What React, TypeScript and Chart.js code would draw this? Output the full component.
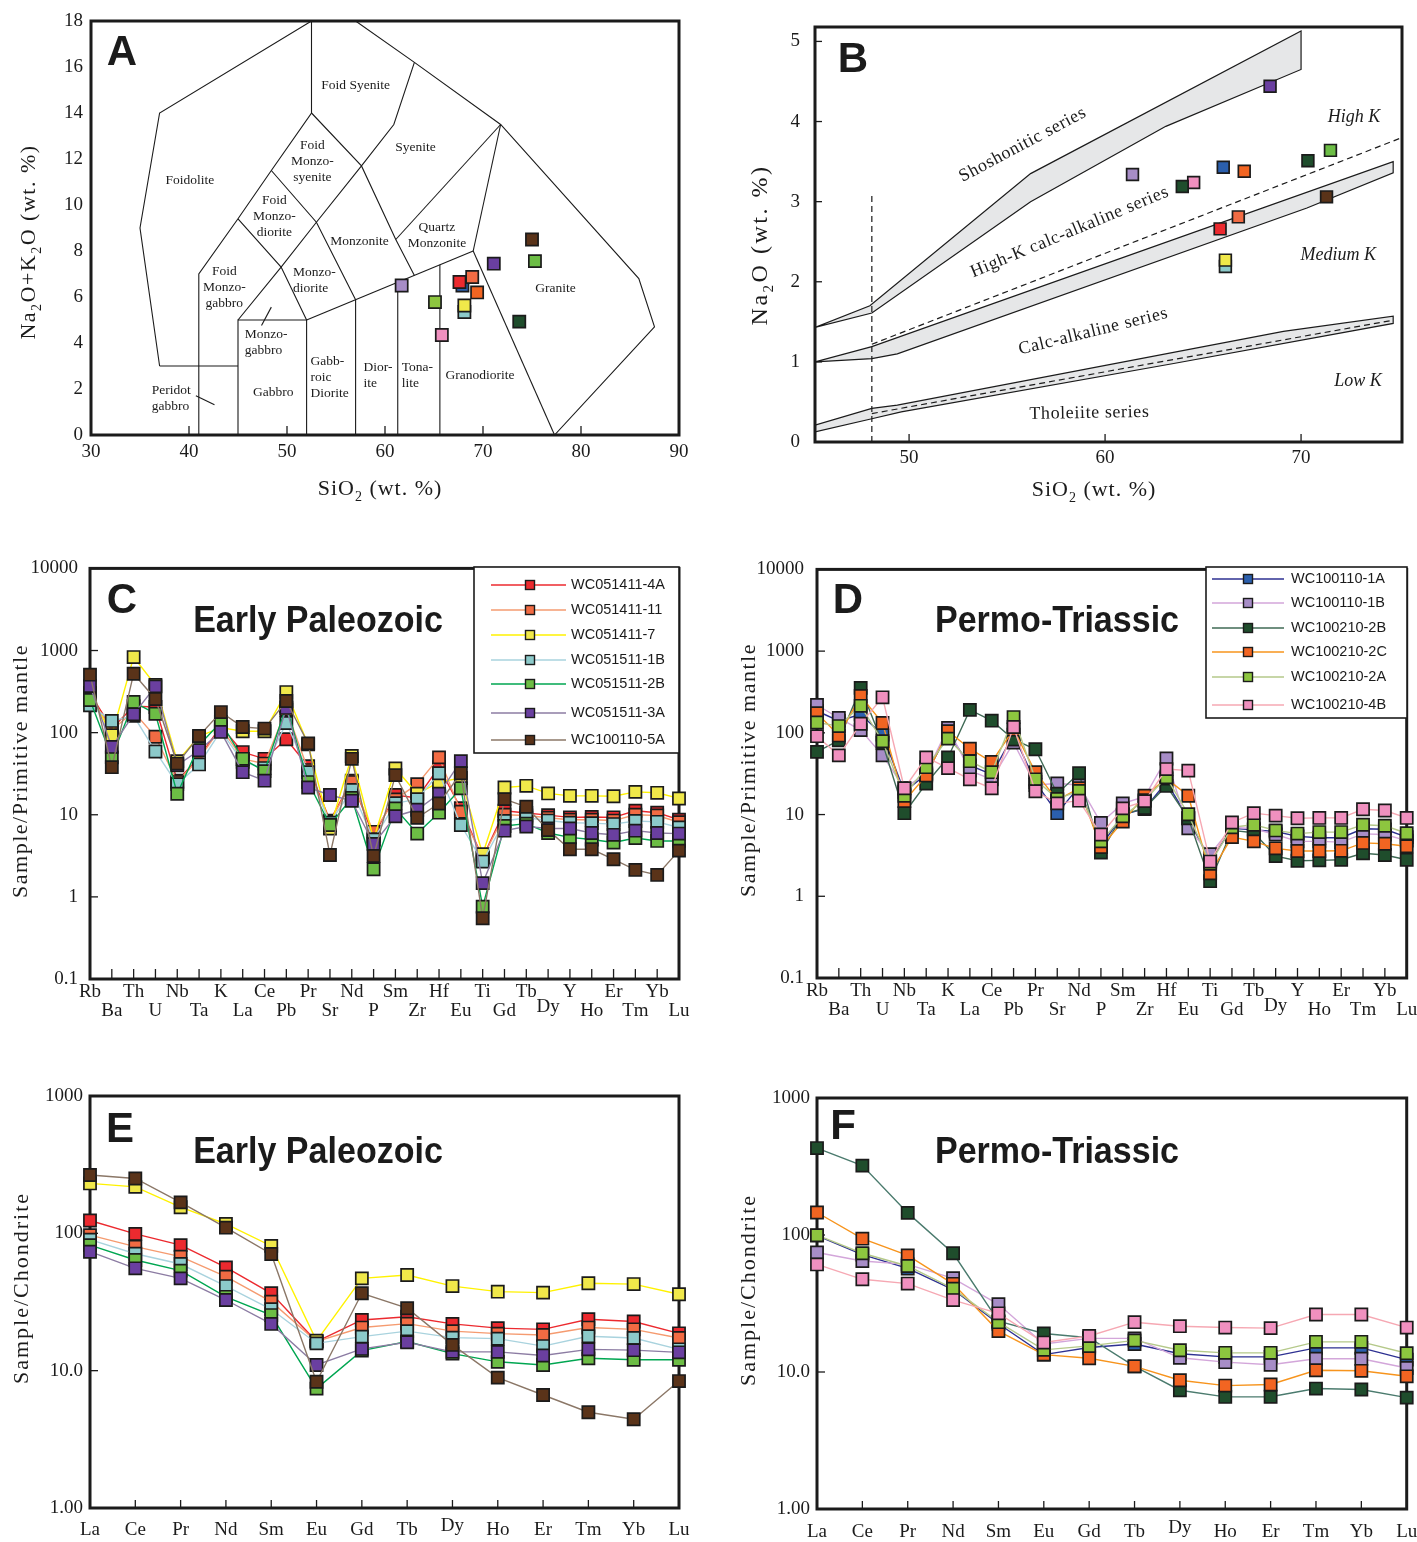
import React, { useEffect, useRef } from 'react';
import { Chart, registerables } from 'chart.js';

Chart.register(...registerables);

const SERIF = '"Liberation Serif", "Times New Roman", Times, serif';
const SANS = '"Liberation Sans", Arial, Helvetica, sans-serif';
const INK = '#1b1b1b';

// ---------------- Panel A & B sample data (13 samples) ----------------
const sampleNames = ['WC100110-1A', 'WC051411-4A', 'WC051411-11', 'WC051511-1B', 'WC051411-7', 'WC051511-2B', 'WC051511-3A', 'WC100110-5A', 'WC100110-1B', 'WC100210-2B', 'WC100210-2C', 'WC100210-4B', 'WC100210-2A'];
const tasSiO2 = [67.9, 67.6, 68.9, 68.1, 68.1, 75.3, 71.1, 75.0, 61.7, 73.7, 69.4, 65.8, 65.1];
const tasAlkali = [6.5, 6.65, 6.87, 5.35, 5.63, 7.56, 7.45, 8.5, 6.5, 4.93, 6.2, 4.35, 5.78];
const kSiO2 = [66.03, 65.87, 66.8, 66.14, 66.14, 71.5, 68.42, 71.3, 61.4, 70.35, 67.1, 64.52, 63.94];
const kOxide = [3.43, 2.66, 2.81, 2.19, 2.27, 3.64, 4.44, 3.06, 3.34, 3.51, 3.38, 3.24, 3.19];
const tasColors = ['#2b5fad', '#ec2a2f', '#f26b43', '#8ccaca', '#f0e84a', '#6cbd45', '#6a3fa0', '#5a3319', '#a78dc7', '#1f4d2c', '#f26522', '#f090bf', '#8dc63f'];
const kColors = ['#2b5fad', '#ec2a2f', '#f26b43', '#8ccaca', '#f0e84a', '#6cbd45', '#6a3fa0', '#5a3319', '#a78dc7', '#1f4d2c', '#f26522', '#f090bf', '#1f4d2c'];

// TAS (plutonic) field boundaries, [SiO2, Na2O+K2O]
const tasBoundaries = [
  [[37, 3], [35, 9], [37, 14], [52.5, 18]],
  [[37, 3], [45, 3]],
  [[52.5, 18], [52.5, 14], [48.4, 11.5], [45, 9.4], [41, 7], [41, 0]],
  [[45, 9.4], [49.4, 7.3], [52, 5]],
  [[45, 0], [45, 5], [52, 5], [52, 0]],
  [[45, 5], [49.4, 7.3], [53, 9.25], [57.6, 11.7], [60.9, 13.5], [63, 16.2]],
  [[57, 18], [63, 16.2], [71.8, 13.5], [85.9, 6.8], [87.5, 4.7], [77.3, 0]],
  [[48.4, 11.5], [53, 9.25], [57, 5.88]],
  [[52.5, 14], [57.6, 11.7], [61.1, 8.5], [63, 6.94]],
  [[52, 5], [69, 8]],
  [[61.1, 8.5], [71.8, 13.5]],
  [[69, 8], [71.8, 13.5]],
  [[69, 8], [77.3, 0]],
  [[57, 5.88], [57, 0]],
  [[61.3, 6.64], [61.3, 0]],
  [[65.6, 7.4], [65.6, 0]],
  [[40.7, 1.71], [42.6, 1.32]],
  [[48.4, 5.56], [47.4, 4.76]],
];
const tasFieldNames = ['Foid Syenite', 'Syenite', 'Foidolite', 'Foid\nMonzo-\nsyenite', 'Foid\nMonzo-\ndiorite', 'Monzonite', 'Quartz\nMonzonite', 'Foid\nMonzo-\ngabbro', 'Monzo-\ndiorite', 'Monzo-\ngabbro', 'Gabbro', 'Peridot\ngabbro', 'Gabb-\nroic\nDiorite', 'Dior-\nite', 'Tona-\nlite', 'Granodiorite', 'Granite'];
const tasFieldSiO2 = [57.0, 63.1, 40.1, 52.6, 48.7, 57.4, 65.3, 43.6, 50.6, 45.7, 48.6, 36.2, 52.4, 57.8, 61.7, 69.7, 77.4];
const tasFieldAlk = [15.18, 12.5, 11.07, 11.9, 9.5, 8.43, 8.68, 6.4, 6.72, 4.03, 1.86, 1.57, 2.51, 2.58, 2.58, 2.61, 6.36];
const tasFieldLeft = [false, false, false, false, false, false, false, false, true, true, false, true, true, true, true, false, false];

// K2O-SiO2 series fields
const shoshoniticBand = [[45.2, 1.43], [48, 1.7], [56.2, 3.35], [70, 5.13], [70, 4.65], [63.1, 3.94], [56.2, 3.0], [48.1, 1.61], [45.2, 1.43]];
const highKBand = [[45.2, 1.0], [48.1, 1.19], [74.7, 3.5], [74.7, 3.36], [70.3, 2.92], [49.4, 1.1], [48.1, 1.04], [45.2, 1.0]];
const lowKBand = [[45.2, 0.21], [48.1, 0.42], [49.4, 0.46], [69.1, 1.38], [74.7, 1.57], [74.7, 1.48], [63.5, 0.98], [49.6, 0.375], [48.1, 0.29], [45.2, 0.125]];
const highKDash = [[48.1, 1.22], [75.15, 3.8]];
const lowKDash = [[48.1, 0.355], [74.7, 1.52]];
const basaltDash = [[48.1, 0], [48.1, 3.07]];
const seriesNames = ['Shoshonitic series', 'High-K calc-alkaline series', 'Calc-alkaline series', 'Tholeiite series'];
const seriesLabelSiO2 = [55.8, 58.2, 59.4, 59.2];
const seriesLabelK = [3.71, 2.62, 1.38, 0.36];
const seriesLabelAngle = [-28, -22.6, -14, -1];
const kClassNames = ['High K', 'Medium K', 'Low K'];
const kClassSiO2 = [72.7, 71.9, 72.9];
const kClassK = [4.05, 2.33, 0.76];

// ---------------- Panels C & D: primitive-mantle normalized ----------------
const spiderElements = ['Rb', 'Ba', 'Th', 'U', 'Nb', 'Ta', 'K', 'La', 'Ce', 'Pb', 'Pr', 'Sr', 'Nd', 'P', 'Sm', 'Zr', 'Hf', 'Eu', 'Ti', 'Gd', 'Tb', 'Dy', 'Y', 'Ho', 'Er', 'Tm', 'Yb', 'Lu'];
const pmTickValues = [0.1, 1, 10, 100, 1000, 10000];
const pmTickLabels = ['0.1', '1', '10', '100', '1000', '10000'];

const earlyNames = ['WC051411-4A', 'WC051411-11', 'WC051411-7', 'WC051511-1B', 'WC051511-2B', 'WC051511-3A', 'WC100110-5A'];
const pm4A = [303, 112, 210, 205, 26, 50, 120, 58, 48, 83, 39, 8.5, 26, 5.5, 17.4, 16, 38, 12, 3.0, 11.2, 10.5, 9.9, 9.3, 9.4, 9.3, 11.2, 10.6, 8.7];
const pm11 = [277, 108, 180, 89, 25, 48, 115, 48, 42, 190, 35, 8.2, 25, 6.2, 15.4, 23.6, 50, 10.9, 3.0, 10, 9.8, 9.2, 8.7, 8.7, 8.5, 10, 9.8, 8.1];
const pm7 = [300, 93, 832, 380, 45, 90, 115, 104, 104, 312, 72, 6.8, 52, 5.0, 36.6, 18, 25, 28, 3.3, 21.5, 22.5, 18.2, 17, 17, 16.8, 19, 18.5, 15.8];
const pm1B = [215, 139, 160, 59, 23.6, 41, 105, 44, 37, 131, 33, 8, 20, 5, 13.8, 15.5, 32, 7.5, 2.69, 8.4, 9.2, 8.5, 8.0, 7.9, 7.7, 8.4, 8.2, 7.0];
const pm2B = [250, 50, 236, 170, 18, 70, 135, 48, 34, 210, 25, 7.5, 16, 2.17, 11.9, 5.9, 10.6, 21, 0.76, 7.3, 7.8, 6.0, 5.3, 5.0, 4.6, 5.2, 4.8, 4.8];
const pm3A = [369, 67, 167, 366, 40, 61, 102, 33, 26, 200, 21.5, 17.4, 14.8, 4.4, 9.6, 11.5, 18, 45, 1.47, 6.4, 7.2, 6.8, 6.8, 6.0, 5.7, 6.4, 6.0, 5.9];
const pm5A = [508, 38, 522, 257, 42, 91, 178, 117, 112, 243, 74, 3.24, 48, 3.15, 30.4, 9.2, 13.7, 32, 0.55, 15.5, 12.5, 6.5, 3.8, 3.8, 2.87, 2.13, 1.85, 3.66];

const permoNames = ['WC100110-1A', 'WC100110-1B', 'WC100210-2B', 'WC100210-2C', 'WC100210-2A', 'WC100210-4B'];
const pd1A = [185, 140, 169, 95, 19, 31, 100, 40, 31, 95, 25, 10.4, 22, 4.1, 10, 11.7, 25, 9, 2.7, 6.8, 6.5, 6.2, 5.4, 5.2, 5.2, 6.7, 6.6, 5.3];
const pd1B = [219, 152, 108, 53, 21, 32, 115, 34.5, 27, 76, 23, 24, 23, 7.9, 13.7, 16.5, 48.6, 6.8, 3.27, 7.0, 6.7, 5.7, 4.7, 4.7, 4.6, 5.8, 5.7, 4.8];
const pd2B = [58.5, 81, 355, 75, 10.4, 24, 50, 191, 141, 83, 63, 18, 32, 3.42, 10, 12, 22.4, 9, 1.53, 6.4, 6.0, 3.1, 2.72, 2.75, 2.8, 3.36, 3.2, 2.8];
const pd2C = [174, 93, 282, 132, 14.6, 30, 105, 64, 44, 110, 33, 15, 21, 4.0, 8.2, 17, 27.5, 17, 1.91, 5.3, 4.7, 3.86, 3.58, 3.58, 3.6, 4.5, 4.4, 4.1];
const pd2A = [134, 121, 214, 79, 17, 38, 85, 45, 33, 156, 27, 15.5, 19.5, 4.7, 9.5, 15, 28.5, 10.1, 2.5, 7.0, 7.5, 6.4, 5.85, 6.1, 6.1, 7.5, 7.3, 5.9];
const pd4B = [91, 53, 129, 272, 21, 50, 37, 27, 21, 118, 19.3, 13.7, 14.8, 5.7, 11.9, 14.6, 36, 34.5, 2.66, 8.0, 10.4, 9.7, 9.0, 9.1, 9.1, 11.6, 11.2, 9.1];

// ---------------- Panels E & F: chondrite normalized REE ----------------
const reeElements = ['La', 'Ce', 'Pr', 'Nd', 'Sm', 'Eu', 'Gd', 'Tb', 'Dy', 'Ho', 'Er', 'Tm', 'Yb', 'Lu'];
const chTickValues = [1, 10, 100, 1000];
const chTickLabels = ['1.00', '10.0', '100', '1000'];
const ree4A = [124, 99, 82, 56.5, 36.6, 16.3, 23.4, 24.7, 21.9, 20.4, 20, 23.7, 22.8, 18.7];
const ree11 = [97, 80, 67.6, 48.4, 31.8, 16.3, 20.6, 22, 19.4, 18.6, 18.2, 20.6, 20, 17.3];
const ree7 = [231, 218, 155, 117, 81, 16.5, 47, 49.7, 41.3, 37.6, 37, 43.3, 42.7, 36];
const ree1B = [90, 71, 59.8, 41.3, 28, 15.8, 17.7, 19.4, 17.4, 17.1, 15.1, 17.8, 17.3, 14.3];
const ree2B = [82, 64, 53.5, 34.5, 25.4, 7.4, 14, 16.3, 13.3, 11.6, 11, 12.3, 12, 12.0];
const ree3A = [73.5, 55.6, 47, 32.7, 21.9, 11, 14.4, 16.1, 13.7, 13.7, 12.9, 14.3, 14.1, 13.6];
const ree5A = [266, 251, 168, 110, 70.7, 8.3, 36.6, 28.5, 15.4, 8.9, 6.65, 4.98, 4.43, 8.4];
const reeP1A = [99, 72, 57, 40, 22.5, 13.4, 15.1, 16, 13.6, 12.9, 12.9, 15, 15, 12.3];
const reeP1B = [74.5, 64.6, 61, 48.3, 31.2, 16, 17.6, 17.6, 12.7, 11.8, 11.3, 12.5, 12.5, 10.7];
const reeP2B = [431, 321, 145, 73.6, 23.5, 19.1, 17.8, 11, 7.36, 6.58, 6.6, 7.57, 7.45, 6.5];
const reeP2C = [146, 94, 71, 44, 19.9, 13.4, 12.6, 11, 8.7, 7.96, 8.1, 10.3, 10.2, 9.3];
const reeP2A = [99.7, 73.6, 59.4, 40.6, 23.1, 14.5, 15.5, 17, 14.4, 13.8, 13.8, 16.6, 16.6, 13.7];
const reeP4B = [61, 47.5, 44.2, 33.5, 26.8, 16.4, 18.3, 23.1, 21.6, 21.1, 20.9, 26.3, 26.3, 21.1];

// ---------------- styles ----------------
const earlyFill = ['#ec2a2f', '#f26b43', '#f0e84a', '#8ccaca', '#6cbd45', '#6a3fa0', '#5a3319'];
const earlyLine = ['#ec2a2f', '#f59b70', '#fff200', '#a9d3de', '#00a651', '#8c7ca3', '#8b7767'];
const permoFill = ['#2b5fad', '#a78dc7', '#1f4d2c', '#f26522', '#8dc63f', '#f090bf'];
const permoLine = ['#2e3192', '#d3a6da', '#3f6a55', '#f7941d', '#b5c98a', '#f6a8b3'];
const permoLineF = ['#2e3192', '#d3a6da', '#4b7b6e', '#f7941d', '#b5c98a', '#f6a8b3'];

type Seg = { t: string; sub?: boolean };
type Txt = { text: string; x: number; y: number; data?: boolean; font: string; align?: CanvasTextAlign; rot?: number; lh?: number; spacing?: number; sx?: number };
type Rich = { segs: Seg[]; x: number; y: number; size: number; rot: number; spacing: number };

function drawText(ctx: CanvasRenderingContext2D, t: Txt, px: number, py: number) {
  ctx.save();
  ctx.translate(px, py);
  if (t.rot) ctx.rotate((t.rot * Math.PI) / 180);
  if (t.sx) ctx.scale(t.sx, 1);
  ctx.font = t.font;
  ctx.fillStyle = INK;
  ctx.textAlign = t.align || 'center';
  ctx.textBaseline = 'middle';
  (ctx as any).letterSpacing = (t.spacing || 0) + 'px';
  const lines = t.text.split('\n');
  const lh = t.lh || 16;
  lines.forEach((ln, k) => ctx.fillText(ln, 0, (k - (lines.length - 1) / 2) * lh));
  ctx.restore();
}

function drawRich(ctx: CanvasRenderingContext2D, r: Rich, px: number, py: number) {
  ctx.save();
  ctx.translate(px, py);
  ctx.rotate((r.rot * Math.PI) / 180);
  ctx.fillStyle = INK;
  ctx.textAlign = 'left';
  ctx.textBaseline = 'alphabetic';
  (ctx as any).letterSpacing = r.spacing + 'px';
  const fontOf = (s: Seg) => `${s.sub ? Math.round(r.size * 0.62) : r.size}px ${SERIF}`;
  let total = 0;
  const widths = r.segs.map((s) => {
    ctx.font = fontOf(s);
    const w = ctx.measureText(s.t).width;
    total += w;
    return w;
  });
  let cx = -total / 2;
  r.segs.forEach((s, i) => {
    ctx.font = fontOf(s);
    ctx.fillText(s.t, cx, r.size * 0.34 + (s.sub ? r.size * 0.24 : 0));
    cx += widths[i];
  });
  ctx.restore();
}

type Legend = { box: number[]; rows: number[]; lineX: number[]; markerX: number; textX: number; labels: string[]; fills: string[]; lines: string[] };

type PanelSpec = {
  box: { x: number; y: number; w: number; h: number };
  plot: { l: number; t: number; r: number; b: number };
  labels?: string[];
  datasets: any[];
  x: any;
  y: any;
  xTicks: number[];
  xTickLen: number;
  yTicks: number[];
  yTickLen: number;
  frameOnTop?: boolean;
  texts: Txt[];
  rich: Rich[];
  cat?: { labels: string[]; y: (i: number) => number; font: string };
  legend?: Legend;
};

function makeDecor(spec: PanelSpec) {
  const drawFrame = (chart: any) => {
    const ctx = chart.ctx as CanvasRenderingContext2D;
    const a = chart.chartArea;
    const xs = chart.scales.x;
    const ys = chart.scales.y;
    ctx.save();
    ctx.strokeStyle = INK;
    ctx.lineWidth = 1.3;
    spec.xTicks.forEach((v) => {
      const px = xs.getPixelForValue(v);
      ctx.beginPath();
      ctx.moveTo(px, a.bottom);
      ctx.lineTo(px, a.bottom - spec.xTickLen);
      ctx.stroke();
    });
    spec.yTicks.forEach((v) => {
      const py = ys.getPixelForValue(v);
      ctx.beginPath();
      ctx.moveTo(a.left, py);
      ctx.lineTo(a.left + spec.yTickLen, py);
      ctx.stroke();
    });
    ctx.lineWidth = 3;
    ctx.strokeRect(a.left, a.top, a.right - a.left, a.bottom - a.top);
    ctx.restore();
  };
  return {
    id: 'decor',
    beforeDatasetsDraw(chart: any) {
      if (!spec.frameOnTop) drawFrame(chart);
    },
    afterDatasetsDraw(chart: any) {
      const ctx = chart.ctx as CanvasRenderingContext2D;
      const xs = chart.scales.x;
      const ys = chart.scales.y;
      if (spec.frameOnTop) drawFrame(chart);
      spec.texts.forEach((t) => {
        const px = t.data ? xs.getPixelForValue(t.x) : t.x - spec.box.x;
        const py = t.data ? ys.getPixelForValue(t.y) : t.y - spec.box.y;
        drawText(ctx, t, px, py);
      });
      spec.rich.forEach((r) => drawRich(ctx, r, r.x - spec.box.x, r.y - spec.box.y));
      if (spec.cat) {
        const c = spec.cat;
        c.labels.forEach((lab, i) => {
          drawText(ctx, { text: lab, x: 0, y: 0, font: c.font }, xs.getPixelForValue(i), c.y(i) - spec.box.y);
        });
      }
      if (spec.legend) {
        const L = spec.legend;
        const ox = spec.box.x;
        const oy = spec.box.y;
        ctx.save();
        ctx.fillStyle = '#ffffff';
        ctx.fillRect(L.box[0] - ox, L.box[1] - oy, L.box[2] - L.box[0], L.box[3] - L.box[1]);
        ctx.strokeStyle = INK;
        ctx.lineWidth = 1.6;
        ctx.strokeRect(L.box[0] - ox, L.box[1] - oy, L.box[2] - L.box[0], L.box[3] - L.box[1]);
        L.labels.forEach((lab, i) => {
          const y = L.rows[i] - oy;
          ctx.strokeStyle = L.lines[i];
          ctx.lineWidth = 1.6;
          ctx.beginPath();
          ctx.moveTo(L.lineX[0] - ox, y);
          ctx.lineTo(L.lineX[1] - ox, y);
          ctx.stroke();
          ctx.fillStyle = L.fills[i];
          ctx.fillRect(L.markerX - ox - 4.5, y - 4.5, 9, 9);
          ctx.strokeStyle = INK;
          ctx.lineWidth = 1.4;
          ctx.strokeRect(L.markerX - ox - 4.5, y - 4.5, 9, 9);
          drawText(ctx, { text: lab, x: 0, y: 0, font: `14.5px ${SANS}`, align: 'left' }, L.textX - ox, y);
        });
        ctx.restore();
      }
    },
  };
}

function buildConfig(spec: PanelSpec): any {
  const padTop = spec.plot.t - spec.box.y;
  const padRight = spec.box.x + spec.box.w - spec.plot.r;
  const xHeight = spec.box.y + spec.box.h - spec.plot.b;
  const yWidth = spec.plot.l - spec.box.x;
  const axisCommon = { grid: { display: false, drawTicks: false }, border: { display: false } };
  return {
    type: 'line',
    data: { labels: spec.labels, datasets: spec.datasets },
    options: {
      responsive: false,
      animation: false,
      devicePixelRatio: 1,
      events: [],
      layout: { padding: { left: 0, top: padTop, right: padRight, bottom: 0 } },
      plugins: { legend: { display: false }, tooltip: { enabled: false } },
      scales: {
        x: { ...axisCommon, ...spec.x, afterFit: (s: any) => { s.height = xHeight; } },
        y: { ...axisCommon, ...spec.y, afterFit: (s: any) => { s.width = yWidth; } },
      },
    },
    plugins: [makeDecor(spec)],
  };
}

const tickFont = { family: SERIF, size: 19 };

function spiderDatasets(values: number[][], fills: string[], lines: string[]) {
  const n = values.length;
  return values.map((v, i) => ({
    data: v,
    borderColor: lines[i],
    backgroundColor: fills[i],
    borderWidth: 1.4,
    pointStyle: 'rect',
    pointRadius: 8.6,
    pointBackgroundColor: fills[i],
    pointBorderColor: INK,
    pointBorderWidth: 1.7,
    fill: false,
    tension: 0,
    order: n - i,
  }));
}

function pairs(p: number[][]) {
  return p.map(([x, y]) => ({ x, y }));
}

const logY = (min: number, max: number, vals: number[], labs: string[], pad: number) => ({
  type: 'logarithmic',
  min,
  max,
  afterBuildTicks: (s: any) => { s.ticks = vals.map((v) => ({ value: v })); },
  ticks: { autoSkip: false, color: INK, font: tickFont, padding: pad, callback: (_v: any, i: number) => labs[i] },
});

const catX = { type: 'category', offset: false, ticks: { display: false } };

// ---------------- panel specs ----------------
const panelA: PanelSpec = {
  box: { x: 0, y: 0, w: 700, h: 510 },
  plot: { l: 91, t: 21, r: 679, b: 435 },
  datasets: [
    ...tasBoundaries.map((seg) => ({ data: pairs(seg), borderColor: INK, borderWidth: 1.1, pointRadius: 0, fill: false, order: 10 })),
    {
      label: 'samples',
      data: tasSiO2.map((x, i) => ({ x, y: tasAlkali[i] })),
      showLine: false,
      pointStyle: 'rect',
      pointRadius: 8.6,
      pointBackgroundColor: tasColors,
      pointBorderColor: INK,
      pointBorderWidth: 1.7,
      order: 0,
    },
  ],
  x: { type: 'linear', min: 30, max: 90, ticks: { stepSize: 10, color: INK, font: tickFont, padding: 6 } },
  y: { type: 'linear', min: 0, max: 18, ticks: { stepSize: 2, color: INK, font: tickFont, padding: 8 } },
  xTicks: [40, 50, 60, 70, 80],
  xTickLen: 9,
  yTicks: [],
  yTickLen: 0,
  frameOnTop: true,
  texts: [
    ...tasFieldNames.map((t, i) => ({ text: t, x: tasFieldSiO2[i], y: tasFieldAlk[i], data: true, font: `13.5px ${SERIF}`, align: (tasFieldLeft[i] ? 'left' : 'center') as CanvasTextAlign, lh: 16 })),
    { text: 'A', x: 122, y: 53, font: `bold 42px ${SANS}` },
  ],
  rich: [
    { segs: [{ t: 'Na' }, { t: '2', sub: true }, { t: 'O+K' }, { t: '2', sub: true }, { t: 'O (wt. %)' }], x: 28, y: 242, size: 22, rot: -90, spacing: 1.5 },
    { segs: [{ t: 'SiO' }, { t: '2', sub: true }, { t: ' (wt. %)' }], x: 380, y: 488, size: 22, rot: 0, spacing: 1 },
  ],
};

const panelB: PanelSpec = {
  box: { x: 700, y: 0, w: 717, h: 510 },
  plot: { l: 815, t: 27, r: 1402, b: 442 },
  datasets: [
    { data: pairs(shoshoniticBand), borderColor: INK, borderWidth: 1.2, backgroundColor: '#e6e7e8', fill: 'shape', pointRadius: 0, order: 10 },
    { data: pairs(highKBand), borderColor: INK, borderWidth: 1.2, backgroundColor: '#e6e7e8', fill: 'shape', pointRadius: 0, order: 10 },
    { data: pairs(lowKBand), borderColor: INK, borderWidth: 1.2, backgroundColor: '#e6e7e8', fill: 'shape', pointRadius: 0, order: 10 },
    { data: pairs(highKDash), borderColor: INK, borderWidth: 1.2, borderDash: [6, 4], pointRadius: 0, fill: false, order: 9 },
    { data: pairs(lowKDash), borderColor: INK, borderWidth: 1.2, borderDash: [6, 4], pointRadius: 0, fill: false, order: 9 },
    { data: pairs(basaltDash), borderColor: INK, borderWidth: 1.2, borderDash: [6, 4], pointRadius: 0, fill: false, order: 9 },
    {
      label: 'samples',
      data: kSiO2.map((x, i) => ({ x, y: kOxide[i] })),
      showLine: false,
      pointStyle: 'rect',
      pointRadius: 8.3,
      pointBackgroundColor: kColors,
      pointBorderColor: INK,
      pointBorderWidth: 1.7,
      order: 0,
    },
  ],
  x: {
    type: 'linear', min: 45.2, max: 75.15,
    afterBuildTicks: (s: any) => { s.ticks = [50, 60, 70].map((v) => ({ value: v })); },
    ticks: { color: INK, font: tickFont, padding: 5 },
  },
  y: {
    type: 'linear', min: 0, max: 5.18,
    afterBuildTicks: (s: any) => { s.ticks = [0, 1, 2, 3, 4, 5].map((v) => ({ value: v })); },
    ticks: { color: INK, font: tickFont, padding: 15 },
  },
  xTicks: [50, 60, 70],
  xTickLen: 8,
  yTicks: [1, 2, 3, 4, 5],
  yTickLen: 7,
  frameOnTop: true,
  texts: [
    ...seriesNames.map((t, i) => ({ text: t, x: seriesLabelSiO2[i], y: seriesLabelK[i], data: true, font: `18px ${SERIF}`, rot: seriesLabelAngle[i], spacing: 0.6 })),
    ...kClassNames.map((t, i) => ({ text: t, x: kClassSiO2[i], y: kClassK[i], data: true, font: `italic 18px ${SERIF}` })),
    { text: 'B', x: 853, y: 60, font: `bold 42px ${SANS}` },
  ],
  rich: [
    { segs: [{ t: 'Na' }, { t: '2', sub: true }, { t: 'O (wt. %)' }], x: 759, y: 245, size: 24, rot: -90, spacing: 2.5 },
    { segs: [{ t: 'SiO' }, { t: '2', sub: true }, { t: ' (wt. %)' }], x: 1094, y: 489, size: 22, rot: 0, spacing: 1 },
  ],
};

const titleFont = `bold 37px ${SANS}`;

const panelC: PanelSpec = {
  box: { x: 0, y: 545, w: 700, h: 490 },
  plot: { l: 90, t: 567, r: 679, b: 979 },
  labels: spiderElements,
  datasets: spiderDatasets([pm4A, pm11, pm7, pm1B, pm2B, pm3A, pm5A], earlyFill, earlyLine),
  x: catX,
  y: logY(0.1, 10000, pmTickValues, pmTickLabels, 12),
  xTicks: spiderElements.map((_, i) => i),
  xTickLen: 10,
  yTicks: [1, 10, 100, 1000],
  yTickLen: 8,
  texts: [
    { text: 'C', x: 122, y: 601, font: `bold 42px ${SANS}` },
    { text: 'Early Paleozoic', x: 318, y: 622, font: titleFont, sx: 0.92 },
  ],
  rich: [{ segs: [{ t: 'Sample/Primitive mantle' }], x: 20, y: 771, size: 22, rot: -90, spacing: 1.5 }],
  cat: { labels: spiderElements, y: (i) => (i % 2 === 0 ? 992 : spiderElements[i] === 'Dy' ? 1007 : 1011), font: `19px ${SERIF}` },
  legend: { box: [474, 567, 679, 753], rows: [585, 610, 635, 660, 684, 713, 740], lineX: [491, 566], markerX: 530, textX: 571, labels: earlyNames, fills: earlyFill, lines: earlyLine },
};

const panelD: PanelSpec = {
  box: { x: 700, y: 545, w: 717, h: 490 },
  plot: { l: 817, t: 565, r: 1407, b: 978 },
  labels: spiderElements,
  datasets: spiderDatasets([pd1A, pd1B, pd2B, pd2C, pd2A, pd4B], permoFill, permoLine),
  x: catX,
  y: logY(0.1, 10000, pmTickValues, pmTickLabels, 13),
  xTicks: spiderElements.map((_, i) => i),
  xTickLen: 10,
  yTicks: [1, 10, 100, 1000],
  yTickLen: 8,
  texts: [
    { text: 'D', x: 848, y: 601, font: `bold 42px ${SANS}` },
    { text: 'Permo-Triassic', x: 1057, y: 622, font: titleFont, sx: 0.92 },
  ],
  rich: [{ segs: [{ t: 'Sample/Primitive mantle' }], x: 748, y: 770, size: 22, rot: -90, spacing: 1.5 }],
  cat: { labels: spiderElements, y: (i) => (i % 2 === 0 ? 991 : spiderElements[i] === 'Dy' ? 1006 : 1010), font: `19px ${SERIF}` },
  legend: { box: [1206, 567, 1407, 718], rows: [579, 603, 628, 652, 677, 705], lineX: [1212, 1284], markerX: 1248, textX: 1291, labels: permoNames, fills: permoFill, lines: permoLine },
};

const panelE: PanelSpec = {
  box: { x: 0, y: 1075, w: 700, h: 467 },
  plot: { l: 90, t: 1096, r: 679, b: 1508 },
  labels: reeElements,
  datasets: spiderDatasets([ree4A, ree11, ree7, ree1B, ree2B, ree3A, ree5A], earlyFill, earlyLine),
  x: catX,
  y: logY(1, 1000, chTickValues, chTickLabels, 7),
  xTicks: reeElements.map((_, i) => i),
  xTickLen: 8,
  yTicks: [10, 100],
  yTickLen: 8,
  texts: [
    { text: 'E', x: 120, y: 1130, font: `bold 42px ${SANS}` },
    { text: 'Early Paleozoic', x: 318, y: 1153, font: titleFont, sx: 0.92 },
  ],
  rich: [{ segs: [{ t: 'Sample/Chondrite' }], x: 21, y: 1288, size: 22, rot: -90, spacing: 2 }],
  cat: { labels: reeElements, y: (i) => (reeElements[i] === 'Dy' ? 1526 : 1530), font: `19px ${SERIF}` },
};

const panelF: PanelSpec = {
  box: { x: 700, y: 1075, w: 717, h: 467 },
  plot: { l: 817, t: 1098, r: 1407, b: 1509 },
  labels: reeElements,
  datasets: spiderDatasets([reeP1A, reeP1B, reeP2B, reeP2C, reeP2A, reeP4B], permoFill, permoLineF),
  x: catX,
  y: logY(1, 1000, chTickValues, chTickLabels, 7),
  xTicks: reeElements.map((_, i) => i),
  xTickLen: 8,
  yTicks: [10, 100],
  yTickLen: 8,
  texts: [
    { text: 'F', x: 843, y: 1127, font: `bold 42px ${SANS}` },
    { text: 'Permo-Triassic', x: 1057, y: 1153, font: titleFont, sx: 0.92 },
  ],
  rich: [{ segs: [{ t: 'Sample/Chondrite' }], x: 748, y: 1290, size: 22, rot: -90, spacing: 2 }],
  cat: { labels: reeElements, y: (i) => (reeElements[i] === 'Dy' ? 1528 : 1532), font: `19px ${SERIF}` },
};

const panels = [panelA, panelB, panelC, panelD, panelE, panelF];

function ChartPanel({ spec }: { spec: PanelSpec }) {
  const ref = useRef<HTMLCanvasElement>(null);
  useEffect(() => {
    if (!ref.current) return;
    const chart = new Chart(ref.current, buildConfig(spec));
    return () => chart.destroy();
  }, [spec]);
  return (
    <canvas
      ref={ref}
      width={spec.box.w}
      height={spec.box.h}
      style={{ position: 'absolute', left: spec.box.x, top: spec.box.y, width: spec.box.w, height: spec.box.h }}
    />
  );
}

export default function App() {
  return (
    <div style={{ position: 'absolute', left: 0, top: 0, width: 1417, height: 1542, background: '#ffffff', overflow: 'hidden' }}>
      {panels.map((p, i) => (
        <ChartPanel key={i} spec={p} />
      ))}
    </div>
  );
}
